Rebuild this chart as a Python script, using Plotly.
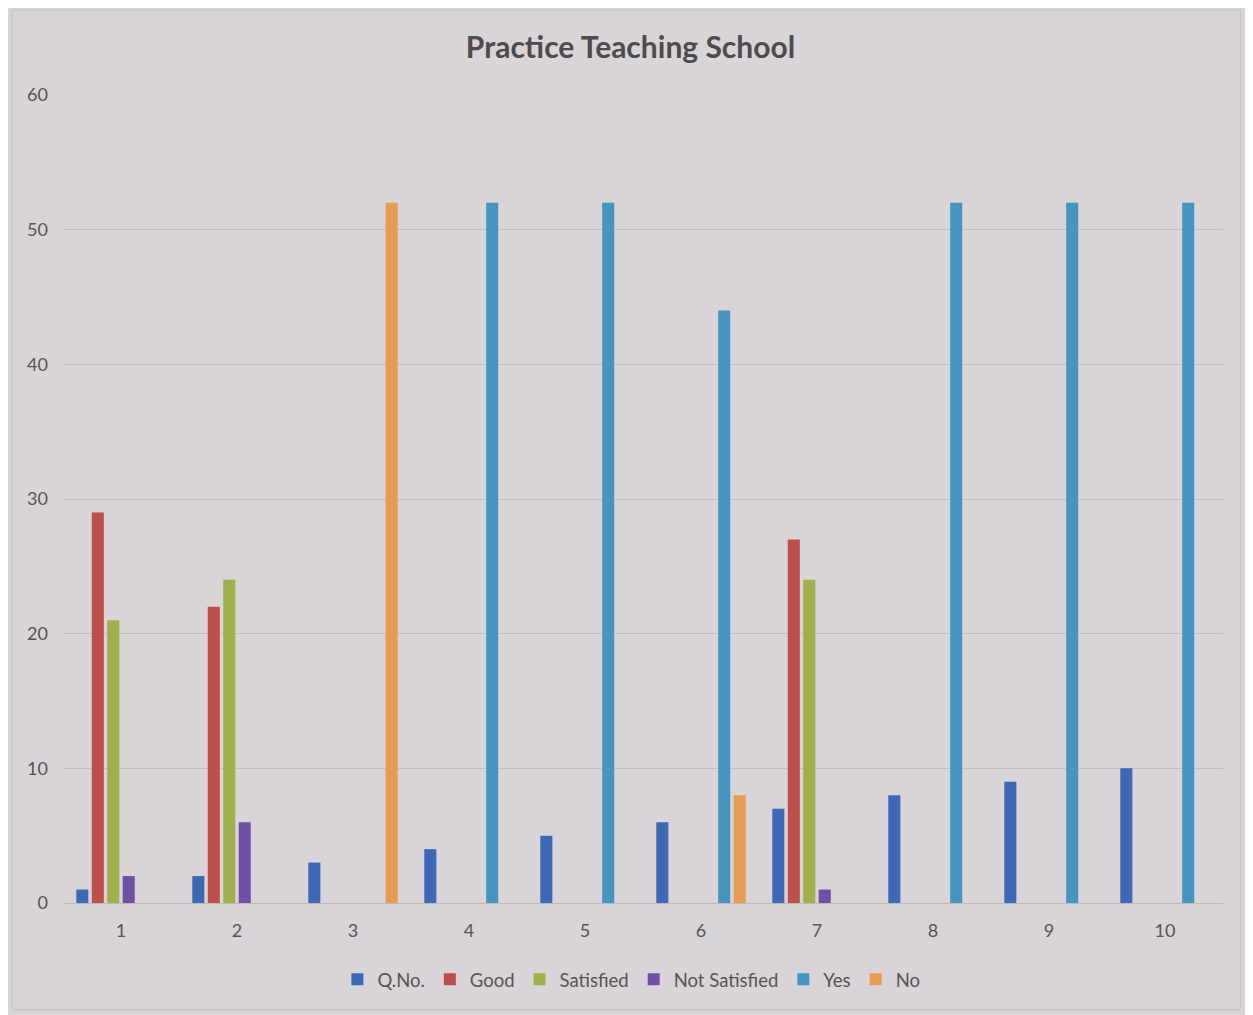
import plotly.graph_objects as go

categories = ["1", "2", "3", "4", "5", "6", "7", "8", "9", "10"]
series_names = ["Q.No.", "Good", "Satisfied", "Not Satisfied", "Yes", "No"]
q_no = [1, 2, 3, 4, 5, 6, 7, 8, 9, 10]
good = [29, 22, None, None, None, None, 27, None, None, None]
satisfied = [21, 24, None, None, None, None, 24, None, None, None]
not_satisfied = [2, 6, None, None, None, None, 1, None, None, None]
yes = [None, None, None, 52, 52, 44, None, 52, 52, 52]
no = [None, None, 52, None, None, 8, None, None, None, None]
y_ticks = [0, 10, 20, 30, 40, 50, 60]

colors = ["#3d68b5", "#bd4f4a", "#9fb04c", "#7050a6", "#4595c0", "#e69c55"]
values = [q_no, good, satisfied, not_satisfied, yes, no]

fig = go.Figure()
for name, vals, col in zip(series_names, values, colors):
    fig.add_trace(go.Bar(x=categories, y=vals, name=name, marker_color=col,
                         marker_line_width=0))

BG = "#d9d4d7"
TXT = "#575355"
fig.update_layout(
    width=1245, height=1007,
    paper_bgcolor=BG, plot_bgcolor=BG,
    margin=dict(l=55, r=30, t=87, b=112, autoexpand=False),
    barmode="group", bargap=0.2, bargroupgap=0.22,
    title=dict(text="<b>Practice Teaching School</b>", x=0.5, xanchor="center",
               y=0.961, yanchor="middle",
               font=dict(family="Lato, Open Sans, sans-serif", size=30, color="#4f4a4c")),
    font=dict(family="Lato, Open Sans, sans-serif", size=18, color=TXT),
    xaxis=dict(showgrid=False, showline=True, linecolor="#bfbbbd", linewidth=1,
               ticks="", tickfont=dict(size=18, color=TXT), automargin=False,
               ticklabelstandoff=11),
    yaxis=dict(range=[0, 60], tickvals=y_ticks, showgrid=True, gridcolor="#c3bfc1",
               gridwidth=1, zeroline=False, showline=False, ticks="",
               tickfont=dict(size=18, color=TXT), ticklabelstandoff=14,
               automargin=False),
    legend=dict(orientation="h", x=0.49, xanchor="center", y=-0.095, yanchor="middle",
                font=dict(size=18.5, color=TXT), itemwidth=30, traceorder="normal"),
    shapes=[dict(type="rect", xref="paper", yref="paper", x0=-0.044, x1=1.015,
                 y0=-0.132, y1=1.105, line=dict(color="#c7c2c5", width=1))],
)

fig.write_html("out.html")
